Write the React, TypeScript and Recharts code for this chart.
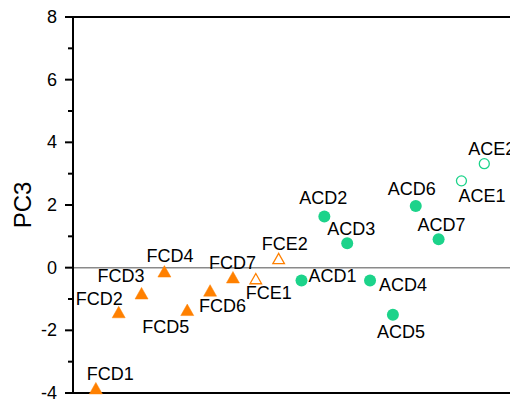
import React from 'react';
import { ScatterChart, Scatter, XAxis, YAxis, ReferenceLine } from 'recharts';

// Sample order index (horizontal position) and PC3 scores
const fcdNames = ['FCD1', 'FCD2', 'FCD3', 'FCD4', 'FCD5', 'FCD6', 'FCD7'];
const fcdIndex = [1, 2, 3, 4, 5, 6, 7];
const fcdPC3 = [-3.87, -1.44, -0.84, -0.14, -1.37, -0.75, -0.33];

const fceNames = ['FCE1', 'FCE2'];
const fceIndex = [8, 9];
const fcePC3 = [-0.37, 0.27];

const acdNames = ['ACD1', 'ACD2', 'ACD3', 'ACD4', 'ACD5', 'ACD6', 'ACD7'];
const acdIndex = [10, 11, 12, 13, 14, 15, 16];
const acdPC3 = [-0.41, 1.63, 0.78, -0.41, -1.5, 1.97, 0.91];

const aceNames = ['ACE1', 'ACE2'];
const aceIndex = [17, 18];
const acePC3 = [2.77, 3.32];

const yTicks = [-4, -3, -2, -1, 0, 1, 2, 3, 4, 5, 6, 7, 8];

// label placement (text start offset relative to marker)
const labelOffset: Record<string, [number, number]> = {
  FCD1: [-9, -9],
  FCD2: [-43, -8],
  FCD3: [-44, -12],
  FCD4: [-18, -10],
  FCD5: [-45, 22],
  FCD6: [-11, 21],
  FCD7: [-24, -9],
  FCE1: [-10, 20],
  FCE2: [-17, -9],
  ACD1: [7, 1],
  ACD2: [-25, -13],
  ACD3: [-20, -8],
  ACD4: [9, 10],
  ACD5: [-16, 23],
  ACD6: [-28, -11],
  ACD7: [-21, -8],
  ACE1: [-3, 21],
  ACE2: [-16, -9],
};

const build = (names: string[], xs: number[], ys: number[]) =>
  names.map((n, i) => ({ name: n, x: xs[i], y: ys[i] }));

const fcdData = build(fcdNames, fcdIndex, fcdPC3);
const fceData = build(fceNames, fceIndex, fcePC3);
const acdData = build(acdNames, acdIndex, acdPC3);
const aceData = build(aceNames, aceIndex, acePC3);

const ORANGE = '#FF8000';
const GREEN = '#1CD38A';
const FONT = 'Liberation Sans, Arial, sans-serif';

const PointLabel = ({ cx, cy, name }: any) => {
  const off = labelOffset[name] || [0, 0];
  return (
    <text x={cx + off[0]} y={cy + off[1]} fontSize={18} fontFamily={FONT} fill="#000">
      {name}
    </text>
  );
};

const makeShape = (kind: 'tri' | 'circle', filled: boolean, color: string) => (props: any) => {
  const { cx, cy, payload } = props;
  let marker;
  if (kind === 'tri') {
    const pts = `${cx},${cy - 6.5} ${cx - 6.5},${cy + 5} ${cx + 6.5},${cy + 5}`;
    marker = filled ? (
      <polygon points={pts} fill={color} stroke={color} strokeWidth={0.5} />
    ) : (
      <polygon points={`${cx},${cy - 5.8} ${cx - 5.8},${cy + 4.5} ${cx + 5.8},${cy + 4.5}`} fill="none" stroke={color} strokeWidth={1.3} />
    );
  } else {
    marker = filled ? (
      <circle cx={cx} cy={cy} r={6} fill={color} />
    ) : (
      <circle cx={cx} cy={cy} r={5} fill="none" stroke={color} strokeWidth={1.3} />
    );
  }
  return (
    <g>
      {marker}
      <PointLabel cx={cx} cy={cy} name={payload.name} />
    </g>
  );
};

const YTick = (props: any) => {
  const { x, y, payload } = props;
  const axisX = x + 16;
  const major = payload.value % 2 === 0;
  const len = major ? 8 : 5;
  return (
    <g>
      <line x1={axisX - len} x2={axisX} y1={y} y2={y} stroke="#000" strokeWidth={2} />
      {major && (
        <text x={x} y={y} textAnchor="end" dominantBaseline="central" fontSize={18} fontFamily={FONT} fill="#000">
          {payload.value}
        </text>
      )}
    </g>
  );
};

export default function App() {
  return (
    <div style={{ width: 510, height: 392, overflow: 'hidden' }}>
      <ScatterChart width={540} height={440} margin={{ top: 9, right: 18, bottom: 25, left: 0 }}>
        <XAxis
          type="number"
          dataKey="x"
          domain={[0, 20]}
          tick={false}
          tickLine={false}
          axisLine={{ stroke: '#000', strokeWidth: 2 }}
          height={30}
        />
        <YAxis
          type="number"
          dataKey="y"
          domain={[-4, 8]}
          ticks={yTicks}
          interval={0}
          width={65}
          tickSize={8}
          tickMargin={8}
          tickLine={false}
          tick={<YTick />}
          axisLine={{ stroke: '#000', strokeWidth: 2 }}
          label={{ value: 'PC3', angle: -90, position: 'center', dx: -18, fontSize: 24, fill: '#000', fontFamily: FONT }}
        />
        <ReferenceLine y={8} stroke="#000" strokeWidth={2} />
        <ReferenceLine y={0} stroke="#8a8a8a" strokeWidth={1.5} />
        <Scatter data={fcdData} isAnimationActive={false} shape={makeShape('tri', true, ORANGE)} />
        <Scatter data={fceData} isAnimationActive={false} shape={makeShape('tri', false, ORANGE)} />
        <Scatter data={acdData} isAnimationActive={false} shape={makeShape('circle', true, GREEN)} />
        <Scatter data={aceData} isAnimationActive={false} shape={makeShape('circle', false, GREEN)} />
      </ScatterChart>
    </div>
  );
}
